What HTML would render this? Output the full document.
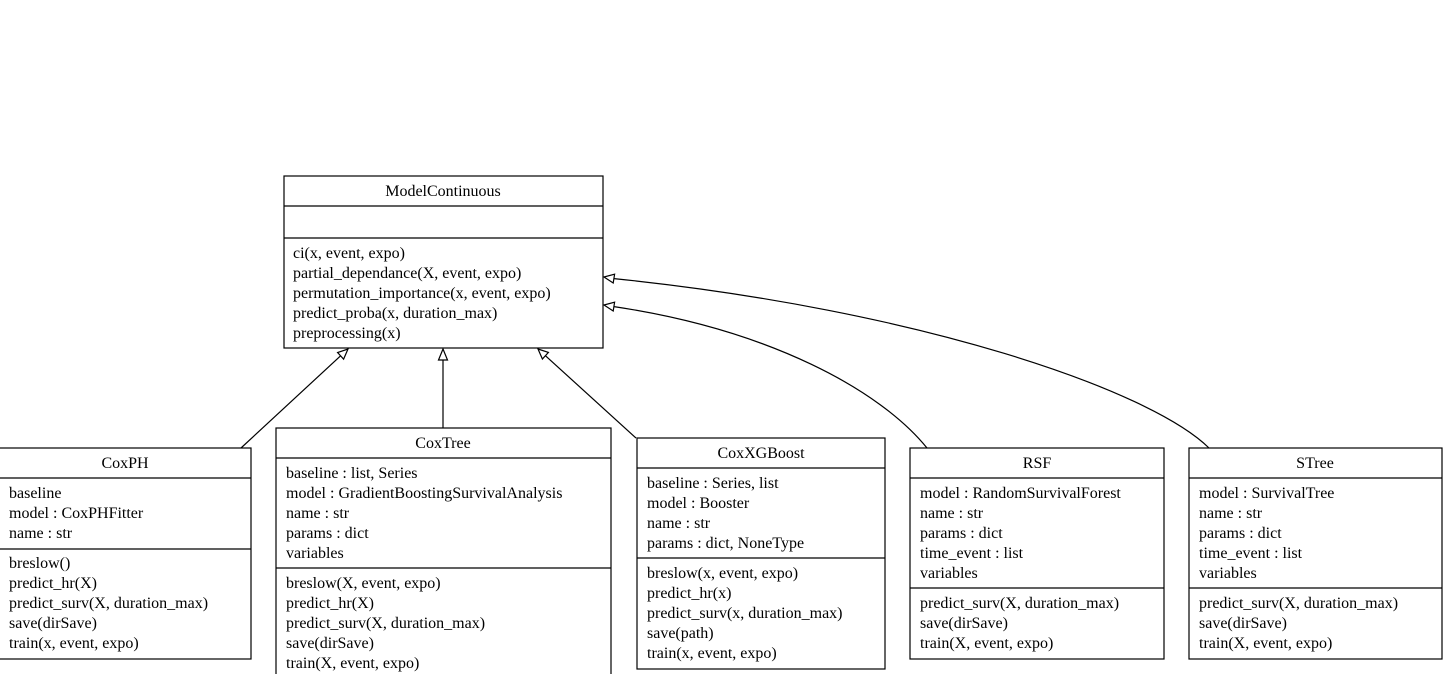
<!DOCTYPE html>
<html><head><meta charset="utf-8"><style>
html,body{margin:0;padding:0;background:#fff;}
svg{display:block;}
text{font-family:"Liberation Serif",serif;font-size:16px;fill:#000;}
</style></head><body>
<svg width="1443" height="674" viewBox="0 0 1443 674" xmlns="http://www.w3.org/2000/svg">
<g fill="none" stroke="#000" stroke-width="1.2">
<!-- ModelContinuous -->
<rect x="284" y="176" width="319" height="172"/>
<line x1="284" y1="206" x2="603" y2="206"/>
<line x1="284" y1="238" x2="603" y2="238"/>
<!-- CoxPH -->
<rect x="-1" y="448" width="252" height="211"/>
<line x1="-1" y1="478" x2="251" y2="478"/>
<line x1="-1" y1="549" x2="251" y2="549"/>
<!-- CoxTree -->
<rect x="276" y="428" width="335" height="260"/>
<line x1="276" y1="458" x2="611" y2="458"/>
<line x1="276" y1="568" x2="611" y2="568"/>
<!-- CoxXGBoost -->
<rect x="637" y="438" width="248" height="231"/>
<line x1="637" y1="468" x2="885" y2="468"/>
<line x1="637" y1="558" x2="885" y2="558"/>
<!-- RSF -->
<rect x="910" y="448" width="254" height="211"/>
<line x1="910" y1="478" x2="1164" y2="478"/>
<line x1="910" y1="588" x2="1164" y2="588"/>
<!-- STree -->
<rect x="1189" y="448" width="253" height="211"/>
<line x1="1189" y1="478" x2="1442" y2="478"/>
<line x1="1189" y1="588" x2="1442" y2="588"/>
<!-- edges -->
<line x1="241" y1="448" x2="340.6" y2="355.8"/>
<line x1="443" y1="428" x2="443" y2="360"/>
<line x1="636" y1="438" x2="545.4" y2="355.7"/>
<path d="M927,448 C880,390 770,330 614,306.6"/>
<path d="M1209,448 C1150,390 920,310 614,278.6"/>
<polygon points="348,349 343.6,359.1 337.6,352.5"/>
<polygon points="443,349 438.5,360 447.5,360"/>
<polygon points="538,349 548.4,352.4 542.4,359"/>
<polygon points="604,305 614.6,302.2 613.2,311"/>
<polygon points="604,277 614.6,274.2 613.2,283"/>
</g>
<text x="443" y="196" text-anchor="middle">ModelContinuous</text>
<text x="293" y="258">ci(x, event, expo)</text>
<text x="293" y="278">partial_dependance(X, event, expo)</text>
<text x="293" y="298">permutation_importance(x, event, expo)</text>
<text x="293" y="318">predict_proba(x, duration_max)</text>
<text x="293" y="338">preprocessing(x)</text>

<text x="125" y="468" text-anchor="middle">CoxPH</text>
<text x="9" y="498">baseline</text>
<text x="9" y="518">model : CoxPHFitter</text>
<text x="9" y="538">name : str</text>
<text x="9" y="568">breslow()</text>
<text x="9" y="588">predict_hr(X)</text>
<text x="9" y="608">predict_surv(X, duration_max)</text>
<text x="9" y="628">save(dirSave)</text>
<text x="9" y="648">train(x, event, expo)</text>

<text x="443" y="448" text-anchor="middle">CoxTree</text>
<text x="286" y="478">baseline : list, Series</text>
<text x="286" y="498">model : GradientBoostingSurvivalAnalysis</text>
<text x="286" y="518">name : str</text>
<text x="286" y="538">params : dict</text>
<text x="286" y="558">variables</text>
<text x="286" y="588">breslow(X, event, expo)</text>
<text x="286" y="608">predict_hr(X)</text>
<text x="286" y="628">predict_surv(X, duration_max)</text>
<text x="286" y="648">save(dirSave)</text>
<text x="286" y="668">train(X, event, expo)</text>

<text x="761" y="458" text-anchor="middle">CoxXGBoost</text>
<text x="647" y="488">baseline : Series, list</text>
<text x="647" y="508">model : Booster</text>
<text x="647" y="528">name : str</text>
<text x="647" y="548">params : dict, NoneType</text>
<text x="647" y="578">breslow(x, event, expo)</text>
<text x="647" y="598">predict_hr(x)</text>
<text x="647" y="618">predict_surv(x, duration_max)</text>
<text x="647" y="638">save(path)</text>
<text x="647" y="658">train(x, event, expo)</text>

<text x="1037" y="468" text-anchor="middle">RSF</text>
<text x="920" y="498">model : RandomSurvivalForest</text>
<text x="920" y="518">name : str</text>
<text x="920" y="538">params : dict</text>
<text x="920" y="558">time_event : list</text>
<text x="920" y="578">variables</text>
<text x="920" y="608">predict_surv(X, duration_max)</text>
<text x="920" y="628">save(dirSave)</text>
<text x="920" y="648">train(X, event, expo)</text>

<text x="1315" y="468" text-anchor="middle">STree</text>
<text x="1199" y="498">model : SurvivalTree</text>
<text x="1199" y="518">name : str</text>
<text x="1199" y="538">params : dict</text>
<text x="1199" y="558">time_event : list</text>
<text x="1199" y="578">variables</text>
<text x="1199" y="608">predict_surv(X, duration_max)</text>
<text x="1199" y="628">save(dirSave)</text>
<text x="1199" y="648">train(X, event, expo)</text>
</svg>
</body></html>
